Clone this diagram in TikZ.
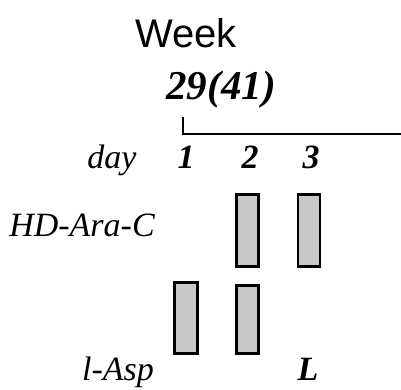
\documentclass[tikz,border=0pt]{standalone}
\usepackage{fontspec}
\setmainfont{Liberation Serif}
\newfontfamily\weekfont{Liberation Sans}
\usepackage{xcolor}
\usetikzlibrary{positioning}
\definecolor{doseGray}{RGB}{200, 200, 200}

\tikzset{
  dosebox/.style={draw, line width=2.8pt, fill=doseGray, inner sep=0pt, minimum width=22pt},
  daylabel/.style={anchor=base, inner sep=0pt, font=\fontsize{34}{36}\selectfont\bfseries\itshape},
  druglabel/.style={anchor=base, inner sep=0pt, font=\fontsize{34}{36}\selectfont\itshape}
}

\begin{document}
\begin{tikzpicture}[x=1pt, y=-1pt]
          \useasboundingbox (0, 0) rectangle (401, 389);

          % Header
          \node[anchor=base, inner sep=0pt, font=\fontsize{40}{44}\weekfont] (week) at (186, 47) {Week};
          \node[anchor=base, inner sep=0pt, font=\fontsize{41}{44}\selectfont\bfseries\itshape] (weekno) at (221, 99) {29(41)};

          % Timeline
          \coordinate (tickTop) at (183, 117);
          \coordinate (tickBase) at (183, 134);
          \coordinate (lineEnd) at (401, 134);
          \draw[line width=2.4pt] (tickTop) -- (tickBase) -- (lineEnd);

          % Days
          \node[druglabel] (day) at (112, 168) {day};
          \node[daylabel] (d1) at (186, 168) {1};
          \node[daylabel] (d2) at (250, 168) {2};
          \node[daylabel] (d3) at (311, 168) {3};

          % Drugs
          \node[druglabel] (ara) at (82, 236) {HD-Ara-C};
          \node[druglabel] (asp) at (118, 380) {l-Asp};
          \node[daylabel] (aspL) at (308, 380) {L};

          % Doses
          \node[dosebox, minimum height=72pt] (ara2) at (247.5, 230.5) {};
          \node[dosebox, minimum height=72pt] (ara3) at (309, 230.5) {};
          \node[dosebox, minimum width=23pt, minimum height=71pt] (asp1) at (186, 318) {};
          \node[dosebox, minimum height=68pt] (asp2) at (247.5, 319.5) {};
    \end{tikzpicture}
\end{document}
